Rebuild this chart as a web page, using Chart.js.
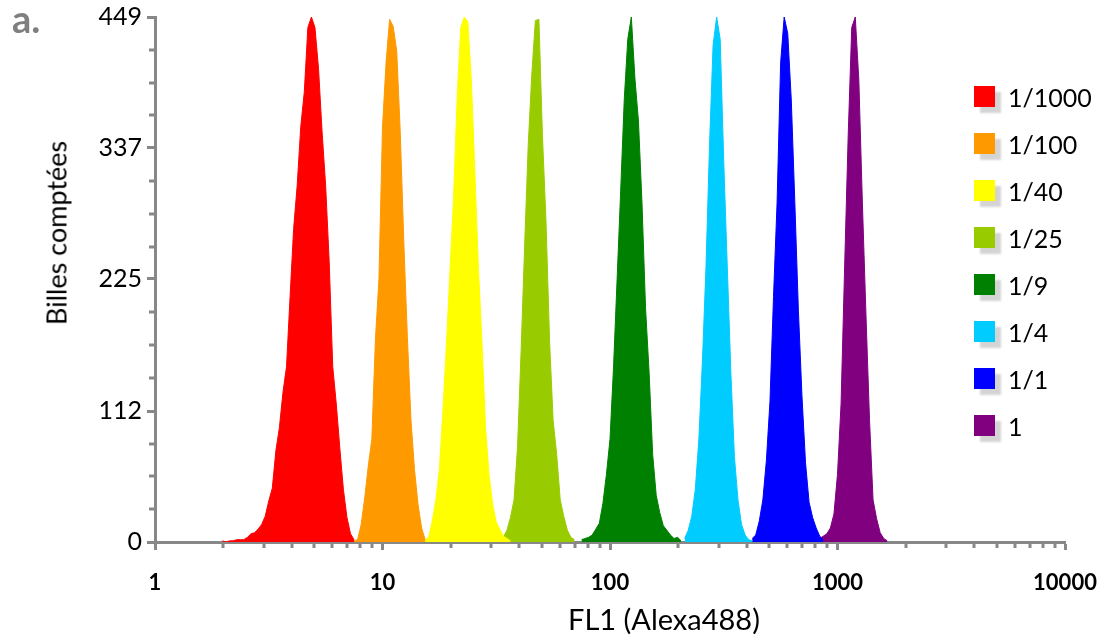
<!DOCTYPE html>
<html>
<head>
<meta charset="utf-8">
<script src="https://cdn.jsdelivr.net/npm/chart.js@4.4.1/dist/chart.umd.min.js"></script>
<style>
  body { margin: 0; background: #fff; }
  #wrap { position: relative; width: 1110px; height: 636px; font-family: Lato, "Open Sans", sans-serif; }
  #panel { position: absolute; left: 12px; top: -1px; font-size: 38px; line-height: 38px; font-weight: bold; color: #7f7f7f; }
  #ytitle { position: absolute; left: 56px; top: 233px; transform: translate(-50%, -50%) rotate(-90deg); font-size: 27px; white-space: nowrap; color: #000; }
  #xtitle { position: absolute; left: 664px; top: 618px; transform: translate(-50%, -50%); font-size: 29px; line-height: 29px; white-space: nowrap; color: #000; }
  #legend { position: absolute; left: 974px; top: 73px; }
  .item { display: flex; align-items: center; height: 47px; }
  .box { width: 21px; height: 21px; box-shadow: 6px 6px 2px rgba(0,0,0,0.17); margin-right: 13px; }
  .lbl { font-size: 25px; color: #000; }
</style>
</head>
<body>
<div id="wrap">
  <canvas id="histo" width="1110" height="636"></canvas>
  <div id="panel">a.</div>
  <div id="ytitle">Billes comptées</div>
  <div id="xtitle">FL1 (Alexa488)</div>
  <div id="legend"></div>
</div>
<script>
// dilutions (legend order)
const labels = ['1/1000', '1/100', '1/40', '1/25', '1/9', '1/4', '1/1', '1'];
const colors = ['#ff0000', '#ff9900', '#ffff00', '#99cc00', '#008000', '#00ccff', '#0000ff', '#800080'];

// first channel of each histogram (256 log channels over 4 decades)
const firstChannel = [19, 56, 75, 98, 120, 149, 168, 186];

// bead counts per channel
const counts1000 = [1, 0, 1, 1, 2, 2, 2, 4, 7, 8, 11, 15, 22, 35, 46, 78, 98, 128, 150, 210,
  268, 305, 355, 385, 440, 449, 440, 405, 351, 305, 240, 150, 118, 80, 45, 21, 7, 2];
const counts100 = [1, 2, 15, 38, 65, 88, 173, 225, 355, 410, 447, 441, 420, 350, 256, 175, 105, 62, 32, 12, 2];
const counts40 = [1, 2, 4, 18, 36, 62, 113, 170, 233, 295, 380, 440, 449, 445, 395, 315, 233, 170, 97, 57,
  32, 17, 11, 5, 3, 1];
const counts25 = [4, 10, 21, 36, 82, 164, 255, 340, 400, 446, 447, 347, 274, 172, 104, 75, 36, 22, 10, 4, 2];
const counts9 = [2, 3, 4, 6, 11, 16, 33, 58, 88, 150, 225, 300, 378, 430, 449, 397, 360, 290, 200, 145,
  75, 40, 25, 14, 10, 6, 3, 4, 1];
const counts4 = [3, 10, 22, 45, 88, 155, 235, 340, 425, 449, 430, 325, 235, 145, 73, 36, 15, 6, 2, 1];
const counts1 = [3, 6, 18, 36, 70, 120, 210, 290, 410, 449, 435, 378, 290, 198, 125, 68, 34, 21, 12, 5, 2];
const countsPure = [2, 3, 5, 7, 12, 24, 58, 118, 235, 347, 440, 449, 395, 290, 195, 105, 36, 20, 8, 3, 1];

const allCounts = [counts1000, counts100, counts40, counts25, counts9, counts4, counts1, countsPure];

// axis ticks
const xTicks = [1, 10, 100, 1000, 10000];
const yTicks = [0, 112, 225, 337, 449];

function channelToFL1(ch) {
    return Math.pow(10, ch / 64);
}

const datasets = allCounts.map((arr, k) => {
    const pts = arr.map((n, i) => ({ x: channelToFL1(firstChannel[k] + i), y: n }));
    return {
        label: labels[k],
        data: pts,
        borderColor: colors[k],
        backgroundColor: colors[k],
        borderWidth: 1,
        pointRadius: 0,
        tension: 0,
        fill: 'origin'
    };
});

// small ticks between the labelled ones
const minorTicks = {
    id: 'minorTicks',
    afterDraw(chart) {
        const ctx = chart.ctx;
        const xs = chart.scales.x;
        const ys = chart.scales.y;
        ctx.save();
        ctx.fillStyle = '#888';
        for (let d = 1; d < 10000; d *= 10) {
            for (let m = 2; m < 10; m++) {
                const px = xs.getPixelForValue(d * m);
                ctx.fillRect(Math.round(px) - 1.5, ys.bottom + 1, 3, 5);
            }
        }
        for (let k = 1; k < 16; k++) {
            if (k % 4 === 0) continue;
            const py = ys.getPixelForValue(449 * k / 16);
            ctx.fillRect(xs.left - 6, Math.round(py) - 1.5, 5, 3);
        }
        ctx.restore();
    }
};

new Chart(document.getElementById('histo'), {
    type: 'line',
    data: { datasets: datasets },
    options: {
        responsive: false,
        animation: false,
        layout: { padding: { left: 0, right: 45, top: 17, bottom: 0 } },
        plugins: {
            legend: { display: false },
            tooltip: { enabled: false }
        },
        scales: {
            x: {
                type: 'logarithmic',
                min: 1,
                max: 10000,
                afterBuildTicks: (scale) => { scale.ticks = xTicks.map(v => ({ value: v })); },
                afterFit: (scale) => {
                    scale.height = 94;
                    scale.paddingLeft = 0;
                    scale.paddingRight = 0;
                },
                border: { display: true, color: '#888', width: 3 },
                grid: { display: true, drawOnChartArea: false, drawTicks: true, tickLength: 8, tickWidth: 3, tickColor: '#888' },
                ticks: {
                    autoSkip: false,
                    maxRotation: 0,
                    padding: 20,
                    color: '#000',
                    font: { family: 'Lato', size: 22, weight: 'bold' },
                    callback: (v) => String(v)
                }
            },
            y: {
                min: 0,
                max: 449,
                afterBuildTicks: (scale) => { scale.ticks = yTicks.map(v => ({ value: v })); },
                afterFit: (scale) => {
                    scale.width = 155;
                    scale.paddingTop = 0;
                    scale.paddingBottom = 0;
                },
                border: { display: true, color: '#888', width: 3 },
                grid: { display: true, drawOnChartArea: false, drawTicks: true, tickLength: 8, tickWidth: 3, tickColor: '#888' },
                ticks: {
                    autoSkip: false,
                    padding: 5,
                    color: '#000',
                    font: { family: 'Lato', size: 25 },
                    callback: (v) => String(v)
                }
            }
        }
    },
    plugins: [minorTicks]
});

// legend
const legend = document.getElementById('legend');
labels.forEach((name, i) => {
    const row = document.createElement('div');
    row.className = 'item';
    row.innerHTML = `<div class="box" style="background:${colors[i]}"></div><span class="lbl">${name}</span>`;
    legend.appendChild(row);
});
</script>
</body>
</html>
